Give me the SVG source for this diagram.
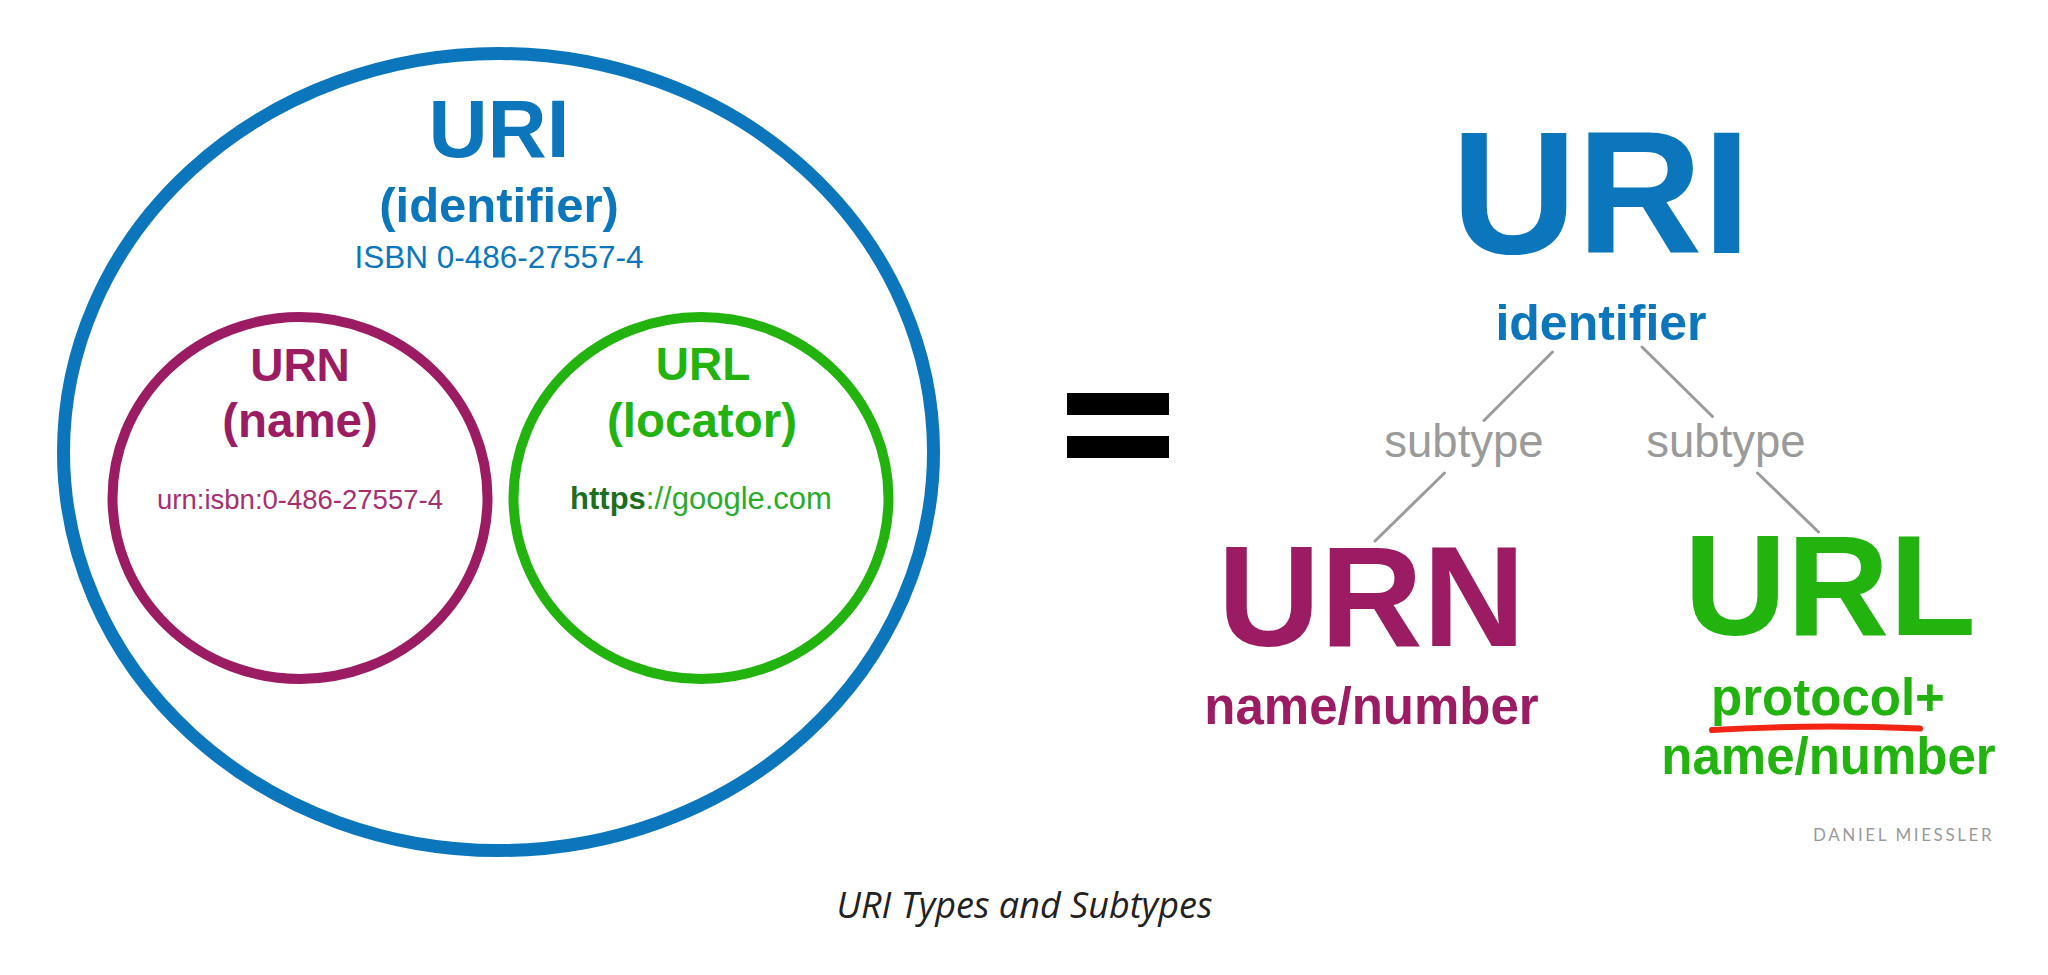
<svg xmlns="http://www.w3.org/2000/svg" width="2048" height="975" viewBox="0 0 2048 975">
  <style>
    .sans { font-family: "Liberation Sans", Arial, Helvetica, sans-serif; }
    .b { font-weight: bold; }
    .mid { text-anchor: middle; }
    .blue { fill: #0b76bc; }
    .purple { fill: #9c1c63; }
    .green { fill: #22b30f; }
    .gray { fill: #9a9a9a; }
    .ring { fill: none; }
    .conn { stroke: #9b9b9b; stroke-width: 3; stroke-linecap: round; fill: none; }
  </style>
  <rect width="2048" height="975" fill="#ffffff"/>

  <!-- Left: Venn style diagram -->
  <g id="venn-uri">
    <ellipse class="ring" cx="498.5" cy="452" rx="435" ry="398.5" stroke="#0b76bc" stroke-width="13"/>
    <text class="sans b mid blue" x="499" y="157" font-size="82">URI</text>
    <text class="sans b mid blue" x="499" y="222" font-size="49">(identifier)</text>
    <text class="sans mid blue" x="499" y="268" font-size="31.5">ISBN 0-486-27557-4</text>
  </g>
  <g id="venn-urn">
    <ellipse class="ring" cx="300" cy="498" rx="187.5" ry="181" stroke="#9c1c63" stroke-width="10"/>
    <text class="sans b mid purple" x="300" y="381" font-size="46">URN</text>
    <text class="sans b mid purple" x="300" y="437" font-size="47.5">(name)</text>
    <text class="sans mid" x="300" y="509" font-size="27.5" fill="#a6306f">urn:isbn:0-486-27557-4</text>
  </g>
  <g id="venn-url">
    <ellipse class="ring" cx="701" cy="498" rx="187.5" ry="181" stroke="#22b30f" stroke-width="10"/>
    <text class="sans b mid green" x="703" y="380" font-size="46">URL</text>
    <text class="sans b mid green" x="702" y="437" font-size="47.5">(locator)</text>
    <text class="sans mid" x="701" y="509" font-size="31"><tspan font-weight="bold" fill="#1c6f1c">https</tspan><tspan fill="#2bab2b">://google.com</tspan></text>
  </g>

  <!-- Equals sign -->
  <g id="equals">
    <rect x="1067" y="393" width="102" height="22" fill="#000000"/>
    <rect x="1067" y="436" width="102" height="22" fill="#000000"/>
  </g>

  <!-- Right: tree -->
  <g id="connectors">
    <line class="conn" x1="1552.5" y1="352" x2="1484" y2="420.5"/>
    <line class="conn" x1="1642" y1="347" x2="1712.5" y2="416.5"/>
    <line class="conn" x1="1444.5" y1="473" x2="1375" y2="541"/>
    <line class="conn" x1="1757.5" y1="473" x2="1818.5" y2="532"/>
  </g>
  <g id="tree-uri">
    <text class="sans b mid blue" x="1601" y="253" font-size="174">URI</text>
    <text class="sans b mid blue" x="1601" y="340" font-size="50">identifier</text>
  </g>
  <g id="tree-subtype-left">
    <text class="sans mid gray" x="1464" y="457" font-size="45.5">subtype</text>
  </g>
  <g id="tree-subtype-right">
    <text class="sans mid gray" x="1726" y="457" font-size="45.5">subtype</text>
  </g>
  <g id="tree-urn">
    <text class="sans b mid purple" x="1371.5" y="646" font-size="142">URN</text>
    <text class="sans b mid purple" x="1371.5" y="724" font-size="51">name/number</text>
  </g>
  <g id="tree-url">
    <text class="sans b mid green" x="1830" y="635" font-size="142">URL</text>
    <text class="sans b mid green" x="1828" y="715" font-size="51">protocol+</text>
    <path d="M1712,730 Q1815,724 1920,728.5" fill="none" stroke="#f42414" stroke-width="6" stroke-linecap="round"/>
    <text class="sans b mid green" x="1828.5" y="774" font-size="51">name/number</text>
  </g>
  <g id="credit">
    <text x="1813" y="841" font-family="Lato, 'Open Sans', sans-serif" font-size="17" letter-spacing="2.6" fill="#9a9a9a">DANIEL MIESSLER</text>
  </g>

  <!-- Caption -->
  <g id="caption">
    <text x="1024.5" y="918" text-anchor="middle" font-family="'Open Sans', sans-serif" font-style="italic" font-size="36" fill="#222222">URI Types and Subtypes</text>
  </g>
</svg>
